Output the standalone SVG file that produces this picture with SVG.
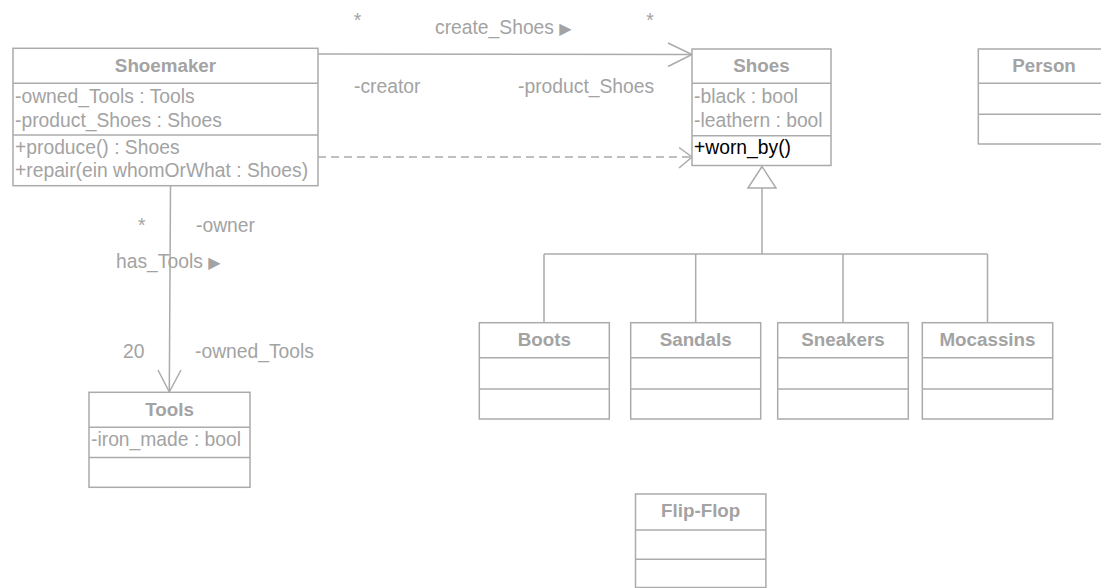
<svg xmlns="http://www.w3.org/2000/svg" width="1101" height="588" viewBox="0 0 1101 588">
<style>
  .box { fill: #ffffff; stroke: #ababab; stroke-width: 1.5; }
  .div { stroke: #ababab; stroke-width: 1.5; fill: none; }
  .ln { stroke: #ababab; stroke-width: 1.5; fill: none; }
  .dash { stroke: #ababab; stroke-width: 1.5; fill: none; stroke-dasharray: 8 5; }
  text { font-family: "Liberation Sans", Arial, sans-serif; fill: #a3a3a3; }
  .hd { font-size: 18.8px; font-weight: bold; text-anchor: middle; }
  .at { font-size: 19.3px; }
  .lb { font-size: 19.3px; }
  .blk { fill: #000000; }
  .tri { font-family: "DejaVu Sans", sans-serif; font-size: 16px; }
</style>
<rect width="1101" height="588" fill="#ffffff"/>
<g id="connectors">
  <!-- create_Shoes association -->
  <line class="ln" x1="318" y1="54" x2="692" y2="54.5"/>
  <polyline class="ln" points="668,43 692,54.5 668,66.5"/>
  <!-- dependency -->
  <line class="dash" x1="318" y1="157" x2="690" y2="157"/>
  <polyline class="ln" points="679,147.5 692,157 679,168"/>
  <!-- has_Tools association -->
  <line class="ln" x1="170.5" y1="186" x2="169.3" y2="392"/>
  <polyline class="ln" points="158,370 169.3,392 181,370"/>
  <!-- generalization -->
  <polygon class="box" points="762,166.5 748,188 776,188"/>
  <line class="ln" x1="762" y1="188" x2="762" y2="254"/>
  <line class="ln" x1="544" y1="254" x2="987.5" y2="254"/>
  <line class="ln" x1="544" y1="254" x2="544" y2="322.7"/>
  <line class="ln" x1="695.7" y1="254" x2="695.7" y2="322.7"/>
  <line class="ln" x1="843" y1="254" x2="843" y2="322.7"/>
  <line class="ln" x1="987.5" y1="254" x2="987.5" y2="322.7"/>
  <!-- labels -->
  <text class="lb" x="357.5" y="27" text-anchor="middle">*</text>
  <text class="lb" x="650" y="27" text-anchor="middle">*</text>
  <text class="lb" x="435" y="34">create_Shoes <tspan class="tri">▶</tspan></text>
  <text class="lb" x="354" y="93">-creator</text>
  <text class="lb" x="518" y="93">-product_Shoes</text>
  <text class="lb" x="141.7" y="232" text-anchor="middle">*</text>
  <text class="lb" x="196" y="232">-owner</text>
  <text class="lb" x="116" y="268">has_Tools <tspan class="tri">▶</tspan></text>
  <text class="lb" x="123" y="357.5">20</text>
  <text class="lb" x="195" y="357.5">-owned_Tools</text>
</g>
<g id="Shoemaker">
  <rect class="box" x="13" y="48.3" width="305" height="137.4"/>
  <line class="div" x1="13" y1="83.3" x2="318" y2="83.3"/>
  <line class="div" x1="13" y1="135" x2="318" y2="135"/>
  <text class="hd" x="165.5" y="71.7">Shoemaker</text>
  <text class="at" x="15" y="102.7">-owned_Tools : Tools</text>
  <text class="at" x="15" y="126.5">-product_Shoes : Shoes</text>
  <text class="at" x="15" y="154">+produce() : Shoes</text>
  <text class="at" x="15" y="176.7">+repair(ein whomOrWhat : Shoes)</text>
</g>
<g id="Shoes">
  <rect class="box" x="692" y="49" width="139" height="116.5"/>
  <line class="div" x1="692" y1="83.3" x2="831" y2="83.3"/>
  <line class="div" x1="692" y1="135.7" x2="831" y2="135.7"/>
  <text class="hd" x="761.5" y="71.7">Shoes</text>
  <text class="at" x="694" y="103.3">-black : bool</text>
  <text class="at" x="694" y="126.7">-leathern : bool</text>
  <text class="at blk" x="694" y="154.3">+worn_by()</text>
</g>
<g id="Person">
  <rect class="box" x="978.3" y="49" width="133" height="95"/>
  <line class="div" x1="978.3" y1="83.3" x2="1111.3" y2="83.3"/>
  <line class="div" x1="978.3" y1="114.3" x2="1111.3" y2="114.3"/>
  <text class="hd" x="1044" y="71.7">Person</text>
</g>
<g id="Tools">
  <rect class="box" x="89" y="392.3" width="161" height="95"/>
  <line class="div" x1="89" y1="427.3" x2="250" y2="427.3"/>
  <line class="div" x1="89" y1="457.5" x2="250" y2="457.5"/>
  <text class="hd" x="169.5" y="415.7">Tools</text>
  <text class="at" x="91" y="445.7">-iron_made : bool</text>
</g>
<g id="Boots">
  <rect class="box" x="479.3" y="322.7" width="130" height="96.3"/>
  <line class="div" x1="479.3" y1="357.7" x2="609.3" y2="357.7"/>
  <line class="div" x1="479.3" y1="389" x2="609.3" y2="389"/>
  <text class="hd" x="544.3" y="346">Boots</text>
</g>
<g id="Sandals">
  <rect class="box" x="630.7" y="322.7" width="130" height="96.3"/>
  <line class="div" x1="630.7" y1="357.7" x2="760.7" y2="357.7"/>
  <line class="div" x1="630.7" y1="389" x2="760.7" y2="389"/>
  <text class="hd" x="695.7" y="346">Sandals</text>
</g>
<g id="Sneakers">
  <rect class="box" x="777.7" y="322.7" width="130.6" height="96.3"/>
  <line class="div" x1="777.7" y1="357.7" x2="908.3" y2="357.7"/>
  <line class="div" x1="777.7" y1="389" x2="908.3" y2="389"/>
  <text class="hd" x="843" y="346">Sneakers</text>
</g>
<g id="Mocassins">
  <rect class="box" x="922.3" y="322.7" width="130.4" height="96.3"/>
  <line class="div" x1="922.3" y1="357.7" x2="1052.7" y2="357.7"/>
  <line class="div" x1="922.3" y1="389" x2="1052.7" y2="389"/>
  <text class="hd" x="987.5" y="346">Mocassins</text>
</g>
<g id="Flip-Flop">
  <rect class="box" x="635.5" y="494" width="130.4" height="93.5"/>
  <line class="div" x1="635.5" y1="530" x2="765.9" y2="530"/>
  <line class="div" x1="635.5" y1="559.3" x2="765.9" y2="559.3"/>
  <text class="hd" x="700.7" y="517.4">Flip-Flop</text>
</g>
</svg>
